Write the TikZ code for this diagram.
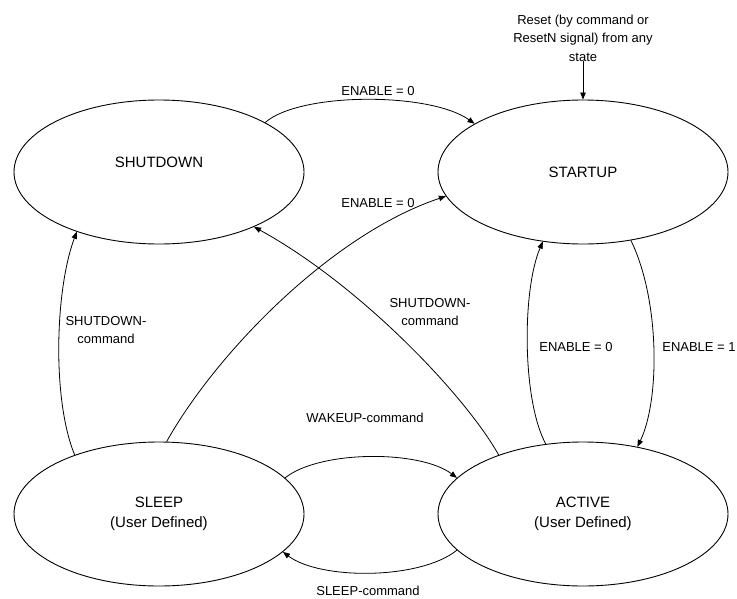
\documentclass[tikz,border=0pt]{standalone}
\usepackage{fontspec}
\setmainfont{Liberation Sans}
\usetikzlibrary{shapes.geometric,arrows.meta}
\begin{document}
\begin{tikzpicture}[x=1pt,y=-1pt,
  state/.style={draw, ellipse, line width=0.9pt, minimum width=290pt, minimum height=144pt,
    inner sep=0pt, font=\fontsize{15}{20}\selectfont, align=center},
  statetext/.style={inner sep=0pt, font=\fontsize{15}{20}\selectfont},
  lbl/.style={font=\fontsize{13}{18.5}\selectfont, align=center, inner sep=0pt},
  tr/.style={draw, line width=0.8pt, -{Triangle[length=7pt,width=5.5pt]}}]
\useasboundingbox (0,0) rectangle (737,598);
\fill[white] (0,0) rectangle (737,598);
% states
\node[state] (sd) at (159,172) {};
\node[statetext] (sdt) at (159,162) {SHUTDOWN};
\node[state] (su) at (583,172) {STARTUP};
\node[state] (sl) at (159,514) {SLEEP\\(User Defined)};
\node[state] (ac) at (583,514) {ACTIVE\\(User Defined)};
% reset
\node[lbl] (rst) at (583,38) {Reset (by command or\\ResetN signal) from any\\state};
\draw[tr] (rst.south) -- (su.north);
% transitions
\draw[tr] (sd.25) .. controls (300,92) and (430,92) .. (su.156);
\draw[tr] (sl.84) .. controls (215,355) and (330,235) .. (su.190);
\draw[tr] (ac.145) .. controls (465,395) and (360,285) .. (sd.330);
\draw[tr] (sl.145) .. controls (52,400) and (55,290) .. (sd.216);
\draw[tr] (ac.118) .. controls (522,400) and (522,290) .. (su.240);
\draw[tr] (su.305) .. controls (660,300) and (660,400) .. (ac.51);
\draw[tr] (sl.16) .. controls (320,450) and (420,450) .. (ac.164);
\draw[tr] (ac.196) .. controls (420,580) and (320,580) .. (sl.343);
% labels
\node[lbl] (l1) at (378,91) {ENABLE = 0};
\node[lbl] (l2) at (378,203) {ENABLE = 0};
\node[lbl] (l3) at (430,312) {SHUTDOWN-\\command};
\node[lbl] (l4) at (106,330) {SHUTDOWN-\\command};
\node[lbl] (l5) at (576,347) {ENABLE = 0};
\node[lbl] (l6) at (699,347) {ENABLE = 1};
\node[lbl] (l7) at (365,418) {WAKEUP-command};
\node[lbl] (l8) at (368,591) {SLEEP-command};
\end{tikzpicture}
\end{document}
